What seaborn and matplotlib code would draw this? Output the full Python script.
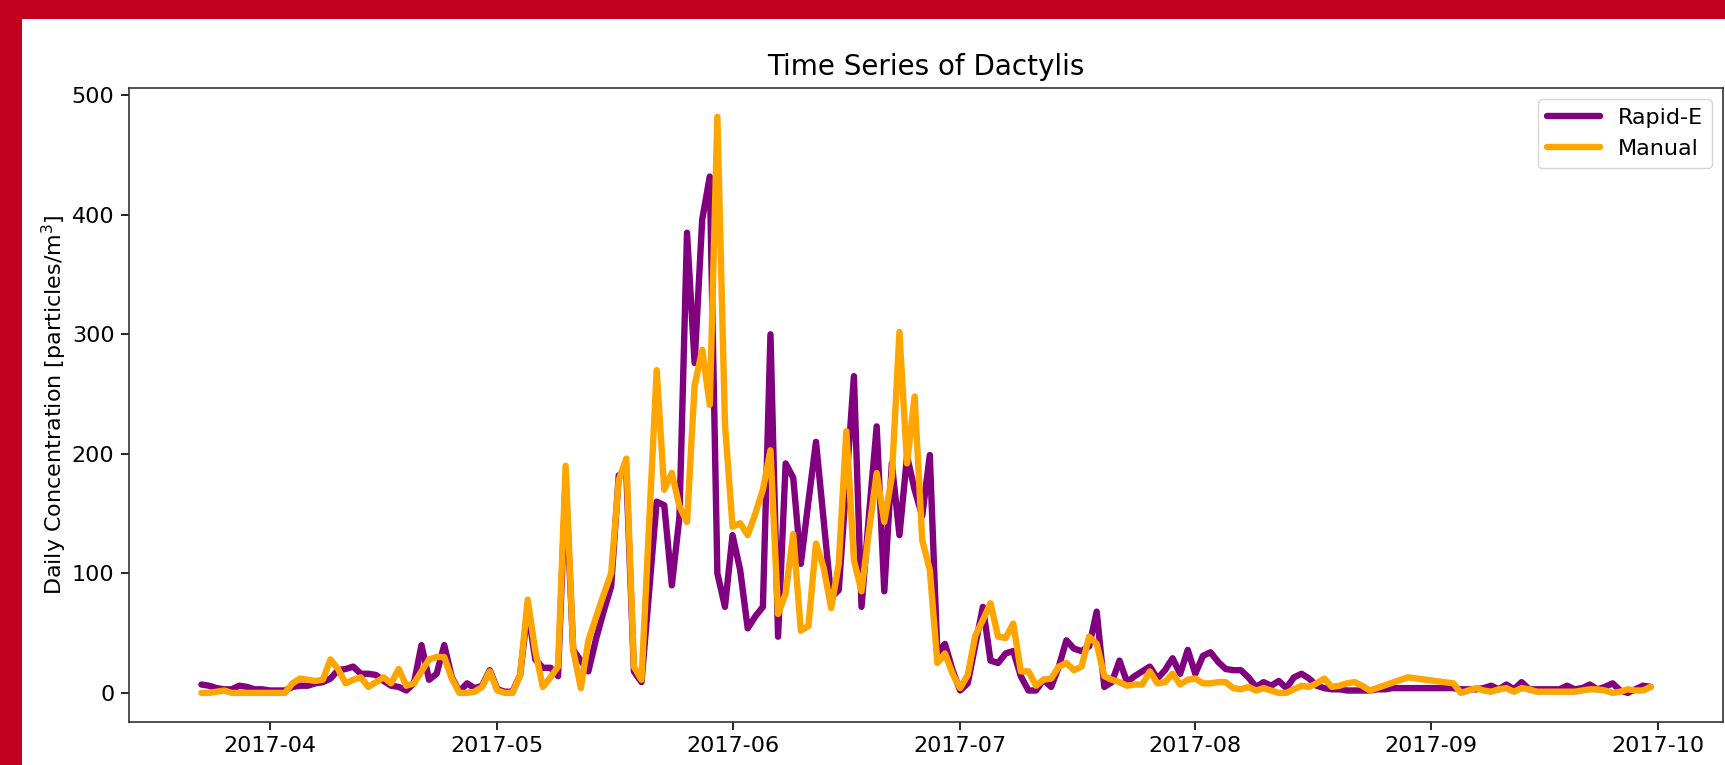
import numpy as np
import pandas as pd
import matplotlib
matplotlib.use("Agg")
import matplotlib.pyplot as plt
import seaborn as sns
from matplotlib.patches import Rectangle

# daily values from 2017-03-23 to 2017-09-30
start_date = "2017-03-23"

rapid_e = [
    7, 6, 4, 3, 3, 6, 5, 3, 3,                      # Mar 23 - Mar 31
    2, 2, 2, 5, 6, 6, 8, 9, 12, 19,                 # Apr 1 - 10
    20, 22, 16, 16, 15, 10, 6, 5, 2, 8,             # Apr 11 - 20
    40, 11, 16, 40, 13, 1, 8, 4, 6, 19,             # Apr 21 - 30
    3, 1, 1, 15, 70, 28, 21, 21, 14, 178,           # May 1 - 10
    36, 27, 18, 45, 68, 89, 182, 185, 18, 9,        # May 11 - 20
    85, 160, 157, 90, 147, 385, 276, 396, 432, 100, 72,  # May 21 - 31
    132, 103, 54, 64, 72, 300, 47, 192, 180, 108,   # Jun 1 - 10
    160, 210, 145, 80, 86, 175, 265, 72, 150, 223,  # Jun 11 - 20
    85, 192, 132, 198, 170, 148, 199, 33, 41, 19,   # Jun 21 - 30
    2, 8, 40, 72, 27, 25, 33, 35, 14, 2,            # Jul 1 - 10
    2, 11, 5, 22, 44, 37, 35, 39, 68, 5,            # Jul 11 - 20
    9, 27, 9, 14, 18, 22, 12, 19, 29, 16, 36,       # Jul 21 - 31
    16, 31, 34, 26, 20, 19, 19, 13, 5, 9,           # Aug 1 - 10
    6, 10, 4, 13, 16, 12, 6, 4, 3, 3,               # Aug 11 - 20
    2, 2, 2, 2, 3, 3, 4, 4, 4, 4, 4,                # Aug 21 - 31
    4, 4, 4, 4, 3, 3, 3, 4, 6, 3,                   # Sep 1 - 10
    7, 3, 9, 3, 3, 3, 3, 3, 6, 3,                   # Sep 11 - 20
    4, 7, 3, 5, 8, 2, 0, 3, 6, 5,                   # Sep 21 - 30
]

manual = [
    0, 0, 1, 2, 0, 0, 0, 0, 0,                      # Mar 23 - Mar 31
    0, 0, 0, 8, 12, 11, 10, 11, 28, 20,             # Apr 1 - 10
    8, 11, 13, 5, 9, 13, 8, 20, 6, 8,               # Apr 11 - 20
    18, 28, 30, 30, 12, 0, 0, 1, 5, 18,             # Apr 21 - 30
    2, 0, 0, 15, 78, 35, 5, 13, 22, 190,            # May 1 - 10
    36, 4, 44, 63, 82, 100, 178, 196, 22, 11,       # May 11 - 20
    140, 270, 170, 184, 156, 143, 257, 287, 241, 482, 225,  # May 21 - 31
    139, 142, 132, 150, 170, 203, 66, 83, 133, 52,  # Jun 1 - 10
    56, 125, 105, 71, 108, 219, 111, 85, 136, 184,  # Jun 11 - 20
    143, 181, 302, 192, 248, 128, 103, 25, 33, 16,  # Jun 21 - 30
    4, 15, 48, 61, 75, 47, 46, 58, 18, 18,          # Jul 1 - 10
    6, 11, 12, 22, 25, 19, 22, 47, 41, 14,          # Jul 11 - 20
    11, 9, 6, 7, 7, 18, 8, 9, 16, 7, 11,            # Jul 21 - 31
    12, 8, 8, 9, 9, 4, 3, 5, 2, 4,                  # Aug 1 - 10
    2, 0, 0, 3, 6, 5, 8, 12, 5, 6,                  # Aug 11 - 20
    8, 9, 6, 2, np.nan, np.nan, np.nan, np.nan, 13, np.nan, np.nan,  # Aug 21 - 31
    np.nan, np.nan, np.nan, 8, 0, 2, 4, 2, 1, 3,    # Sep 1 - 10
    4, 1, 4, 3, 1, 1, 1, 1, 1, 1,                   # Sep 11 - 20
    2, 3, 3, 2, 0, 1, 3, 2, 2, 5,                   # Sep 21 - 30
]

dates = pd.date_range(start_date, periods=len(rapid_e), freq="D")

df = pd.concat([
    pd.DataFrame({"Date": dates, "Concentration": rapid_e, "Method": "Rapid-E"}),
    pd.DataFrame({"Date": dates, "Concentration": manual, "Method": "Manual"}),
]).dropna()

sns.set_style("ticks")
plt.rcParams["font.family"] = ["DejaVu Sans"]
plt.rcParams["text.color"] = "black"
plt.rcParams["axes.labelcolor"] = "black"
plt.rcParams["xtick.color"] = "black"
plt.rcParams["ytick.color"] = "black"

W, H = 1725, 765
fig = plt.figure(figsize=(W / 100, H / 100), dpi=100, facecolor="#BF0020")
fig.add_artist(Rectangle((22 / W, 0), 1, (H - 19) / H, transform=fig.transFigure,
                         facecolor="white", edgecolor="none", zorder=-1))

ax = fig.add_axes([129 / W, 43.3 / H, (1723 - 129) / W, (721.7 - 88) / H])
ax.set_facecolor("white")

sns.lineplot(data=df, x="Date", y="Concentration", hue="Method",
             palette={"Rapid-E": "purple", "Manual": "orange"},
             linewidth=4.6, estimator=None, ax=ax)

ax.set_title("Time Series of Dactylis", fontsize=20, pad=9)
ax.set_xlabel("")
ax.set_ylabel("Daily Concentration [particles/m$^3$]", fontsize=16, labelpad=2)
ax.tick_params(axis="both", labelsize=16, length=5.5, width=1.2, pad=5)
for s in ax.spines.values():
    s.set_linewidth(1.2)
    s.set_color("#333333")

handles, labels = ax.get_legend_handles_labels()
ax.legend(handles, labels, loc="upper right", fontsize=16, handlelength=2.4,
          frameon=True, fancybox=True, edgecolor="0.8")

fig.savefig("out.png", dpi=100, facecolor=fig.get_facecolor())
